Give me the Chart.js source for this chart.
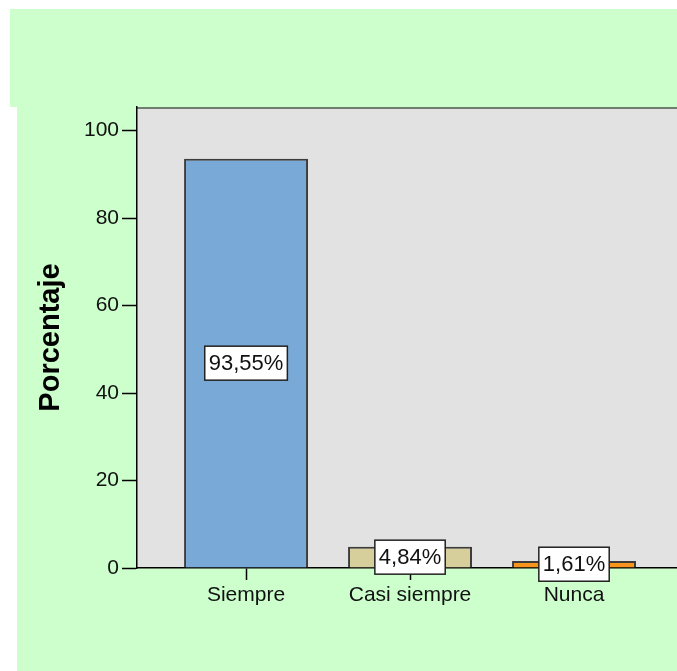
<!DOCTYPE html>
<html>
<head>
<meta charset="utf-8">
<script src="https://cdn.jsdelivr.net/npm/chart.js@4/dist/chart.umd.min.js"></script>
<style>
  html, body { margin: 0; padding: 0; background: #fff; }
  #wrap { position: relative; width: 677px; height: 671px; }
</style>
</head>
<body>
<div id="wrap"><canvas id="chart"></canvas></div>
<script>
// Frecuencias en porcentaje
const categories = ['Siempre', 'Casi siempre', 'Nunca'];
const percents = [93.55, 4.84, 1.61];
const barColors = ['#79a9d6', '#d6cf9b', '#f7941d'];
const yTicks = [0, 20, 40, 60, 80, 100];

const FONT = "'Liberation Sans', Arial, sans-serif";

function fmtPct(v) {
  return v.toFixed(2).replace('.', ',') + '%';
}

// fondo verde y area gris del grafico
const backdrop = {
  id: 'backdrop',
  beforeDraw(chart) {
    const { ctx, chartArea } = chart;
    ctx.save();
    ctx.fillStyle = '#fff';
    ctx.fillRect(0, 0, chart.width, chart.height);
    ctx.fillStyle = '#ccffcc';
    ctx.fillRect(10, 9, chart.width - 10, chartArea.top - 9);
    ctx.fillRect(17, chartArea.top, chart.width - 17, chart.height - chartArea.top);
    ctx.fillStyle = '#e2e2e2';
    ctx.fillRect(chartArea.left, chartArea.top, chartArea.right - chartArea.left, chartArea.bottom - chartArea.top);
    ctx.strokeStyle = '#6f7f6f';
    ctx.lineWidth = 2;
    ctx.beginPath();
    ctx.moveTo(chartArea.left, chartArea.top + 1);
    ctx.lineTo(chartArea.right, chartArea.top + 1);
    ctx.stroke();
    ctx.restore();
  }
};

// etiquetas con recuadro blanco en el centro de cada barra
const boxLabels = {
  id: 'boxLabels',
  afterDatasetsDraw(chart) {
    const { ctx } = chart;
    const meta = chart.getDatasetMeta(0);
    ctx.save();
    ctx.font = '22px ' + FONT;
    ctx.textAlign = 'center';
    ctx.textBaseline = 'middle';
    meta.data.forEach((bar, i) => {
      const txt = fmtPct(percents[i]);
      const w = ctx.measureText(txt).width + 8;
      const h = 34;
      const cx = bar.x;
      const cy = (bar.y + bar.base) / 2;
      ctx.fillStyle = '#fff';
      ctx.fillRect(cx - w / 2, cy - h / 2, w, h);
      ctx.strokeStyle = '#222';
      ctx.lineWidth = 1.5;
      ctx.strokeRect(cx - w / 2, cy - h / 2, w, h);
      ctx.fillStyle = '#111';
      ctx.fillText(txt, cx, cy + 1);
    });
    ctx.restore();
  }
};

new Chart(document.getElementById('chart'), {
  type: 'bar',
  data: {
    datasets: [{
      data: percents.map((v, i) => ({ x: i, y: v })),
      backgroundColor: barColors,
      borderColor: '#3c3c3c',
      borderWidth: 2,
      categoryPercentage: 1,
      barPercentage: 0.756
    }]
  },
  options: {
    responsive: true,
    maintainAspectRatio: false,
    animation: false,
    layout: { padding: { top: 107, left: 0, right: 0, bottom: 0 } },
    plugins: {
      legend: { display: false },
      tooltip: { enabled: false }
    },
    scales: {
      x: {
        type: 'linear',
        min: -0.665,
        max: 2.628,
        offset: false,
        z: 1,
        afterFit(scale) { scale.height = 103; },
        afterBuildTicks(scale) { scale.ticks = categories.map((c, i) => ({ value: i })); },
        border: { display: true, color: '#000', width: 1.5 },
        grid: { offset: false, drawOnChartArea: false, drawTicks: true, tickLength: 12, tickColor: '#000', tickWidth: 1.5 },
        ticks: {
          autoSkip: false,
          maxRotation: 0,
          padding: 3,
          color: '#111',
          font: { family: FONT, size: 21 },
          callback: (v) => categories[v]
        }
      },
      y: {
        min: 0,
        max: 105.4,
        afterFit(scale) { scale.width = 137; },
        afterBuildTicks(scale) { scale.ticks = yTicks.map(v => ({ value: v })); },
        border: { display: true, color: '#000', width: 1.5 },
        grid: { drawOnChartArea: false, drawTicks: true, tickLength: 15, tickColor: '#000', tickWidth: 1.5 },
        ticks: {
          padding: 3,
          color: '#111',
          font: { family: FONT, size: 21 }
        },
        title: {
          display: true,
          text: 'Porcentaje',
          color: '#000',
          padding: { top: 34, bottom: 0 },
          font: { family: FONT, size: 29, weight: 'bold' }
        }
      }
    }
  },
  plugins: [backdrop, boxLabels]
});
</script>
</body>
</html>
